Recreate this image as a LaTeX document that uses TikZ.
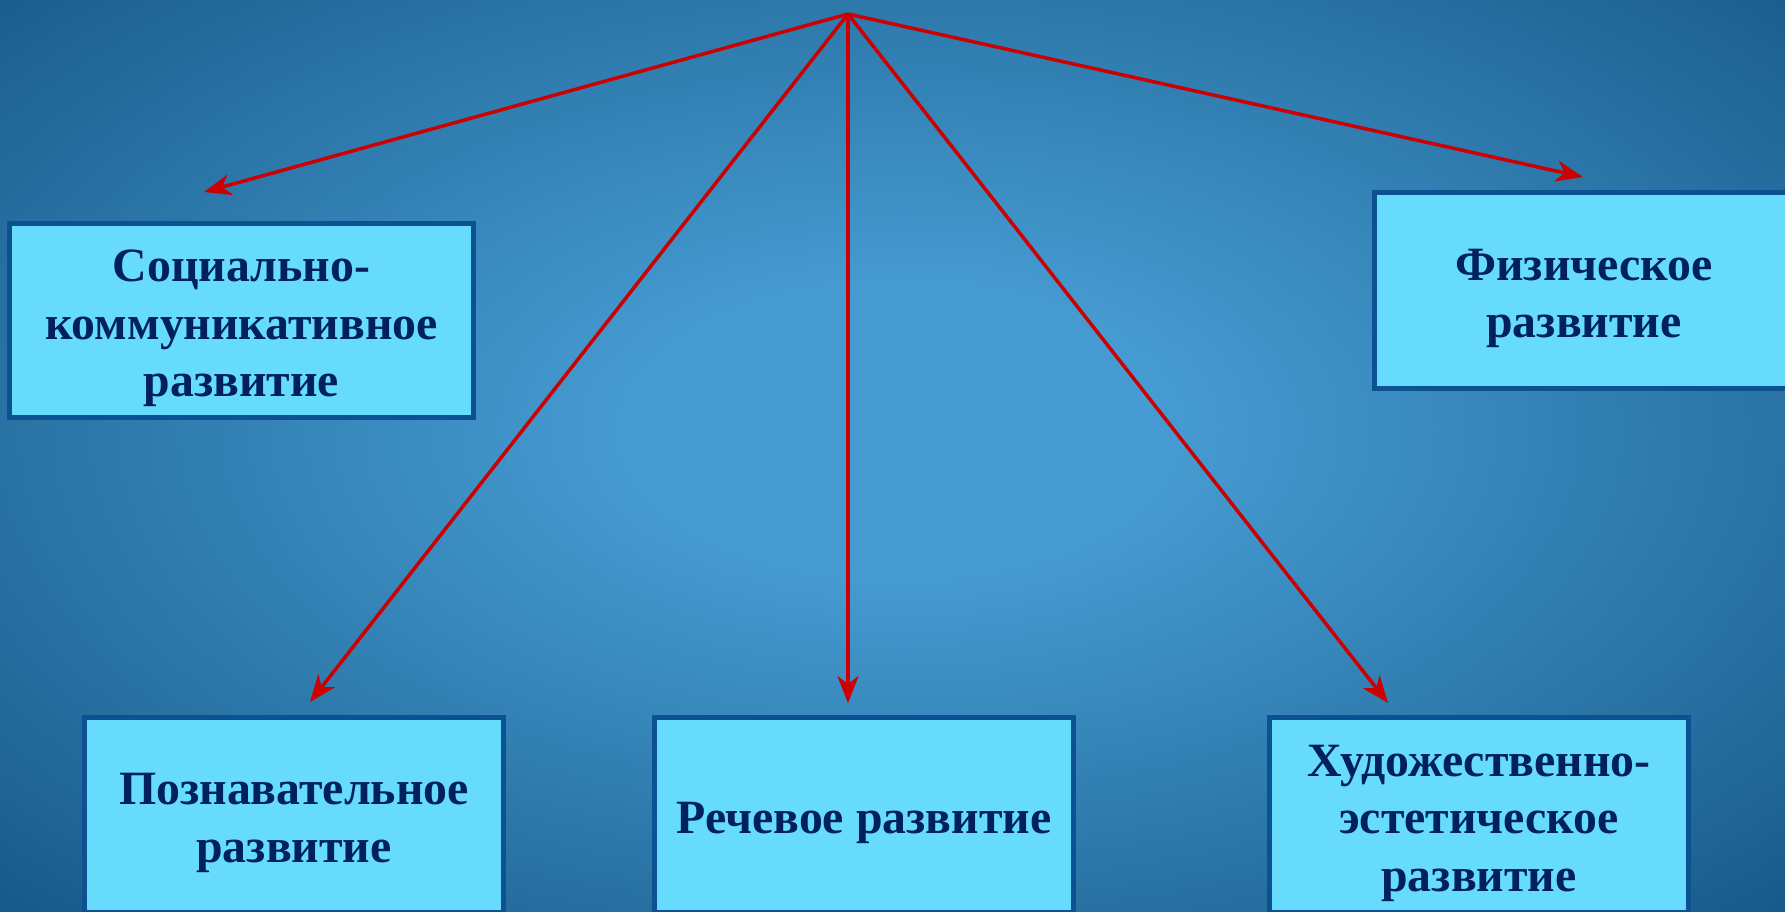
\documentclass[tikz,border=0pt]{standalone}
\usepackage{fontspec}
\setmainfont{Liberation Serif}
\usetikzlibrary{arrows.meta}
\definecolor{bgin}{RGB}{70,156,210}
\definecolor{bgout}{RGB}{22,88,135}
\definecolor{boxfill}{RGB}{103,219,251}
\definecolor{boxline}{RGB}{12,82,146}
\definecolor{txt}{RGB}{0,32,96}
\definecolor{arr}{RGB}{204,0,0}
\pgfdeclareradialshading{bgshade}{\pgfpoint{0bp}{0bp}}{color(0bp)=(bgin); color(7bp)=(bgin); color(36bp)=(bgout); color(50bp)=(bgout)}
\begin{document}
\begin{tikzpicture}[x=1pt,y=-1pt,
  box/.style={draw=boxline, line width=5pt, fill=boxfill, inner sep=0pt},
  lbl/.style={text=txt, font=\fontsize{47.8}{57.5}\selectfont\bfseries, align=center, inner sep=0pt},
  link/.style={draw=arr, line width=3.5pt, -{Stealth[length=27pt,width=21pt,inset=8pt]}}]
\useasboundingbox (0,0) rectangle (1785,911);
\clip (0,0) rectangle (1785,911);
\shade[shading=bgshade] (0,-51) rectangle (1800,911);

\node[box, minimum width=464pt, minimum height=194pt] (soc) at (241.5,320.5) {};
\node[box, minimum width=419pt, minimum height=196pt] (fiz) at (1584,290.5) {};
\node[box, minimum width=419pt, minimum height=195pt] (pozn) at (294,815) {};
\node[box, minimum width=419pt, minimum height=195pt] (rech) at (864,815) {};
\node[box, minimum width=419pt, minimum height=195pt] (hud) at (1479,815) {};

\node[lbl] (socT) at ([yshift=-8pt]soc.center) {Социально-\\коммуникативное\\развитие};
\node[lbl] (fizT) at ([yshift=-8pt]fiz.center) {Физическое\\развитие};
\node[lbl] (poznT) at ([yshift=-8pt]pozn.center) {Познавательное\\развитие};
\node[lbl] (rechT) at ([yshift=-8pt]rech.center) {Речевое развитие};
\node[lbl] (hudT) at ([yshift=-8pt]hud.center) {Художественно-\\эстетическое\\развитие};

\coordinate (apex) at (848,14);
\coordinate (eSoc) at (204,192);
\coordinate (eFiz) at (1583,177);
\coordinate (ePozn) at (310,702);
\coordinate (eRech) at (848,703);
\coordinate (eHud) at (1388,703);

\draw[link] (apex) -- (eSoc);
\draw[link] (apex) -- (eFiz);
\draw[link] (apex) -- (ePozn);
\draw[link] (apex) -- (eRech);
\draw[link] (apex) -- (eHud);
\end{tikzpicture}
\end{document}
